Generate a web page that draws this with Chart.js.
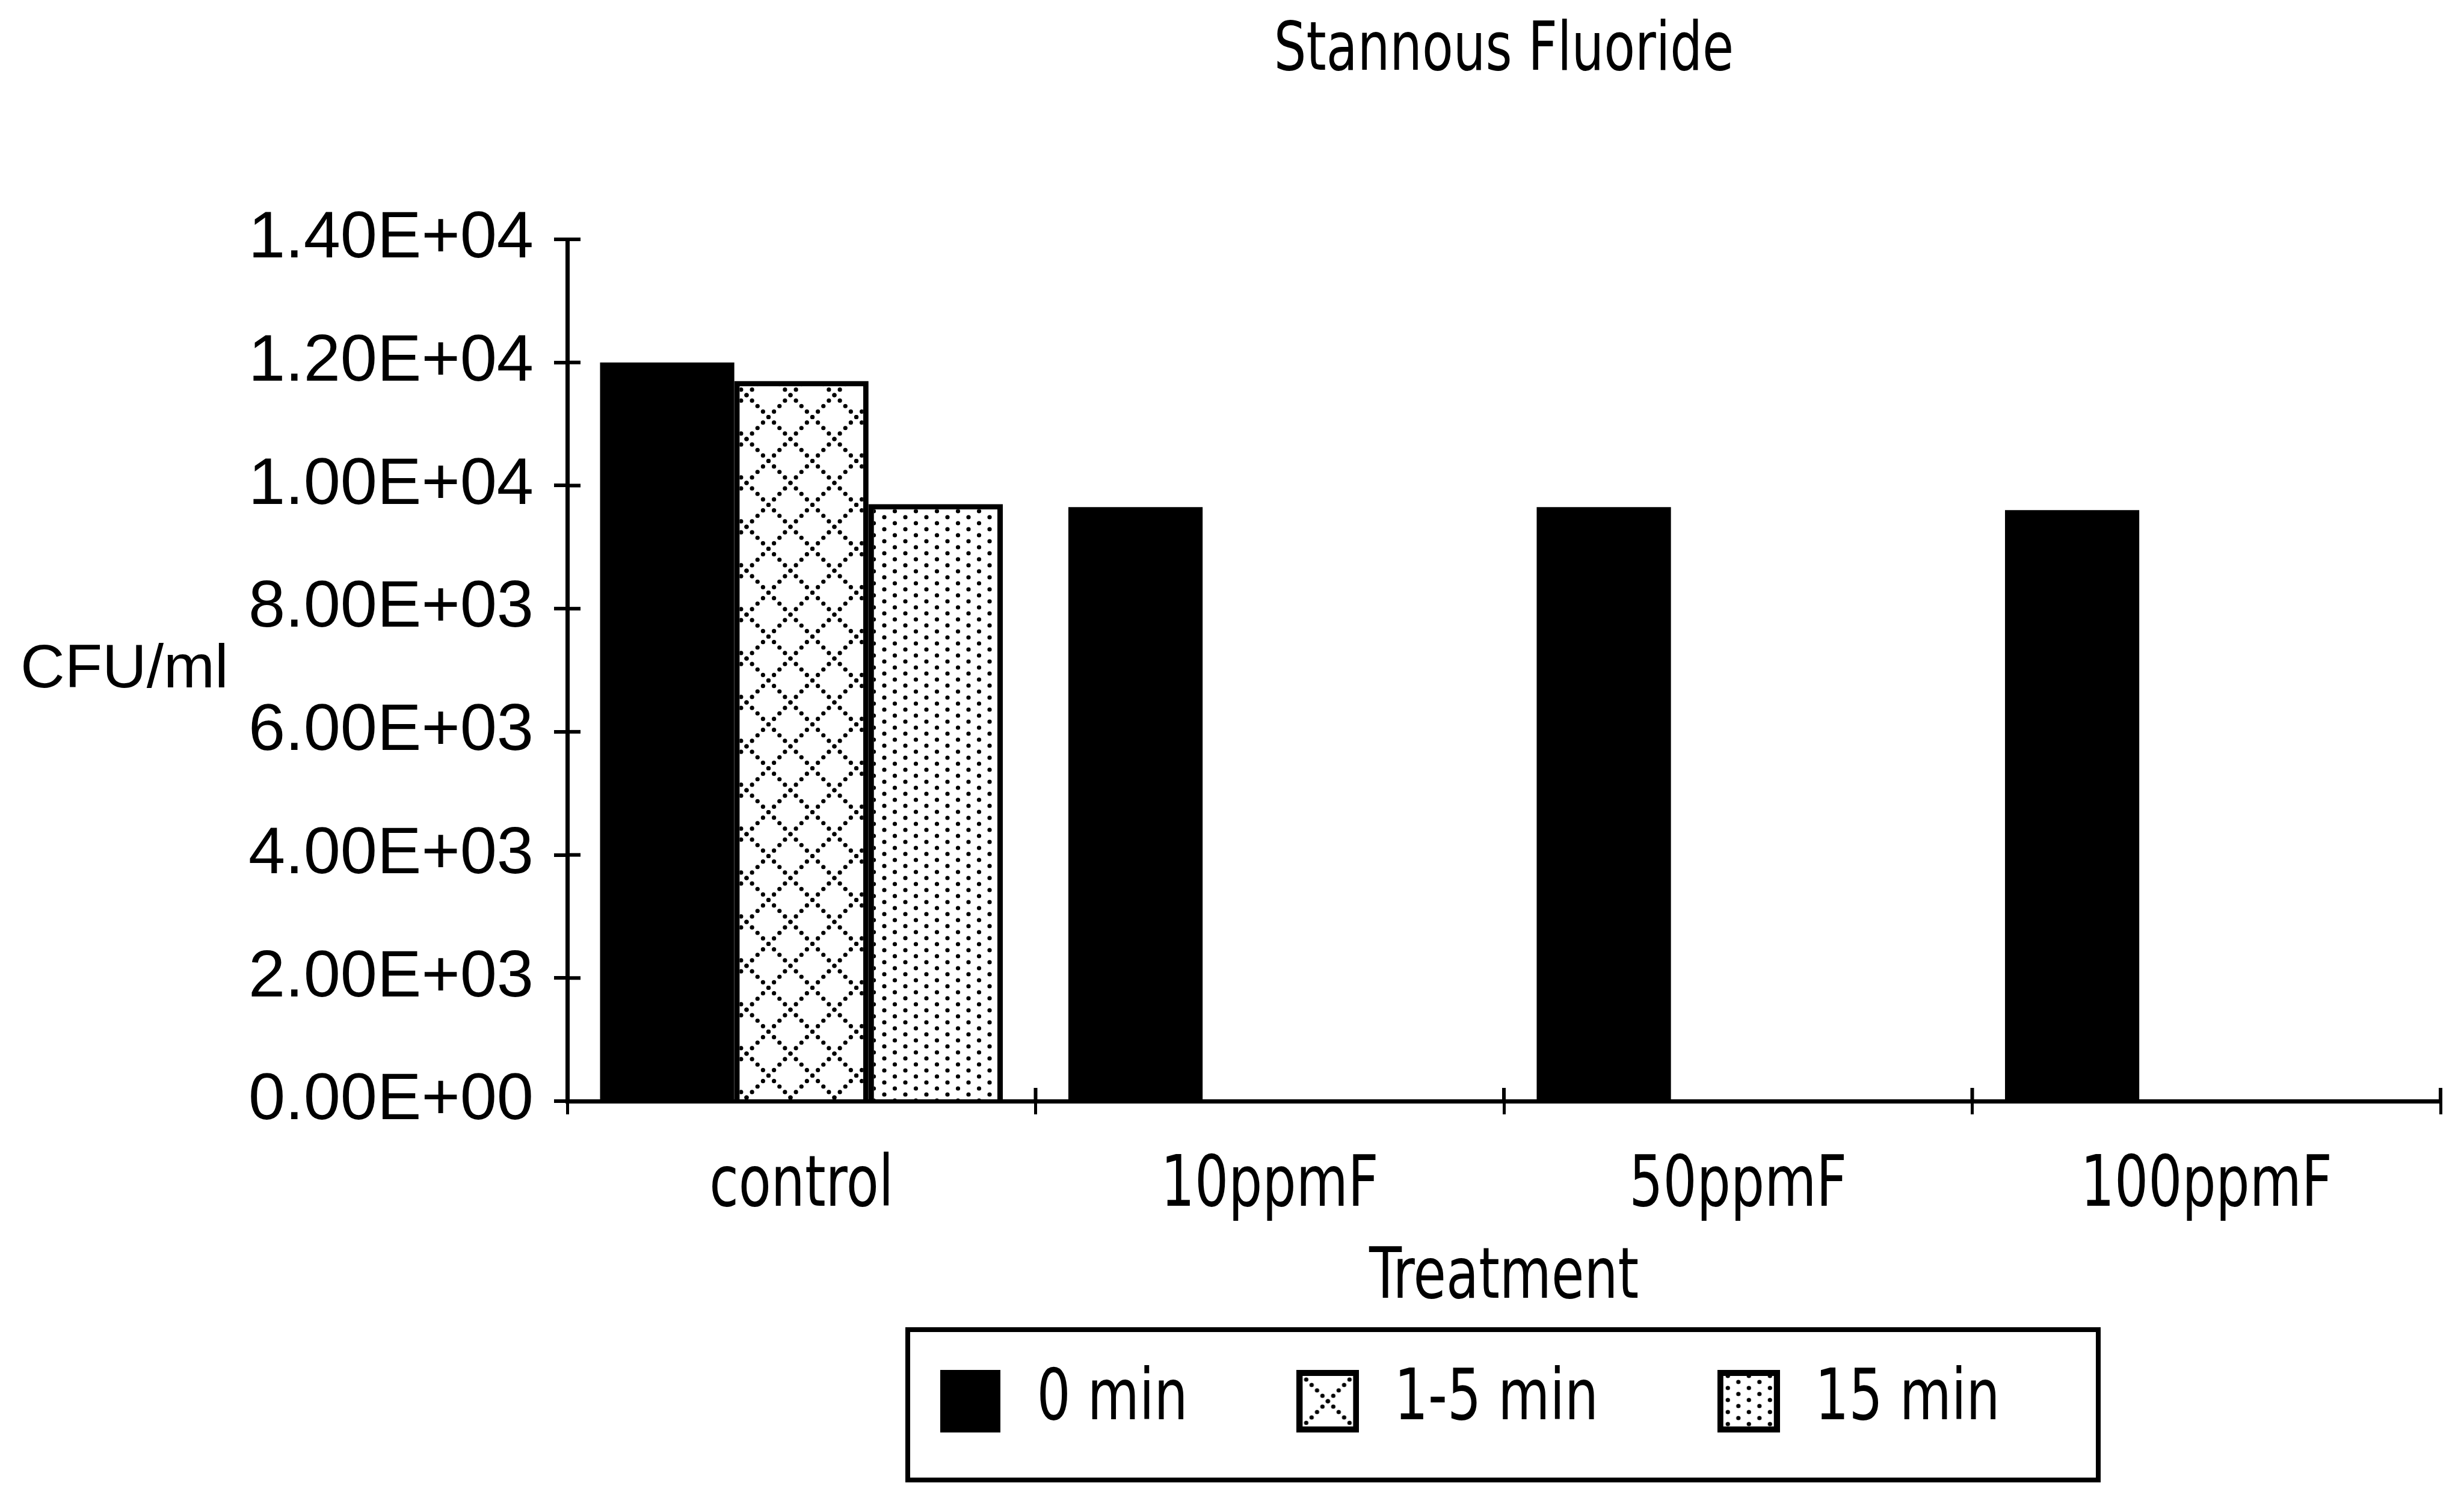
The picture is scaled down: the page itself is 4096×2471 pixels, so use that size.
<!DOCTYPE html>
<html>
<head>
<meta charset="utf-8">
<title>Stannous Fluoride</title>
<script src="https://cdn.jsdelivr.net/npm/chart.js@4.4.1/dist/chart.umd.min.js"></script>
<style>
  html, body { margin: 0; padding: 0; background: #fff; }
  canvas { display: block; }
</style>
</head>
<body>
<canvas id="grafico" width="4096" height="2471"></canvas>
<script>
// Dados do gráfico
const categorias = ['control', '10ppmF', '50ppmF', '100ppmF'];
const nomesSeries = ['0 min', '1-5 min', '15 min'];
const serie0min = [12000, 9650, 9650, 9600];
const serie1a5min = [11700, null, null, null];
const serie15min = [9700, null, null, null];
const rotulosY = ['0.00E+00', '2.00E+03', '4.00E+03', '6.00E+03', '8.00E+03', '1.00E+04', '1.20E+04', '1.40E+04'];

const fonteLarga = '"Liberation Sans", Arial, sans-serif';
const fonteEstreita = '"DejaVu Sans Condensed", sans-serif';
const COMPRESSAO = 0.84;

const canvas = document.getElementById('grafico');
const ctx = canvas.getContext('2d');

// Textos na fonte estreita saem ainda mais apertados na horizontal
const fillTextOriginal = ctx.fillText;
ctx.fillText = function (texto, x, y, maxWidth) {
    if (this.font.indexOf('Condensed') !== -1) {
        const largura = this.measureText(texto).width * COMPRESSAO;
        maxWidth = (maxWidth === undefined || maxWidth === null) ? largura : Math.min(maxWidth, largura);
    }
    if (maxWidth === undefined || maxWidth === null) return fillTextOriginal.call(this, texto, x, y);
    return fillTextOriginal.call(this, texto, x, y, maxWidth);
};

// Desenha bolinhas repetidas nas bordas para o ladrilho fechar sem emenda
function bolinha(g, x, y, r, w, h) {
    for (let dx = -1; dx <= 1; dx++) {
        for (let dy = -1; dy <= 1; dy++) {
            g.beginPath();
            g.arc(x + dx * w, y + dy * h, r, 0, Math.PI * 2);
            g.fill();
        }
    }
}

// Ladrilho em losangos pontilhados (1-5 min)
function ladrilhoLosango() {
    const P = 73, n = 8;
    const c = document.createElement('canvas');
    c.width = P; c.height = P;
    const g = c.getContext('2d');
    g.fillStyle = '#fff';
    g.fillRect(0, 0, P, P);
    g.fillStyle = '#000';
    for (let i = 0; i < n; i++) {
        const t = i * P / n;
        bolinha(g, t, t, 3.6, P, P);
        bolinha(g, t, P - t, 3.6, P, P);
    }
    return c;
}

// Ladrilho de pontos intercalados (15 min)
function ladrilhoPontos() {
    const W = 35, H = 20;
    const c = document.createElement('canvas');
    c.width = W; c.height = H;
    const g = c.getContext('2d');
    g.fillStyle = '#fff';
    g.fillRect(0, 0, W, H);
    g.fillStyle = '#000';
    bolinha(g, 0, 0, 3.6, W, H);
    bolinha(g, W / 2, H / 2, 3.6, W, H);
    return c;
}

const padraoLosango = ctx.createPattern(ladrilhoLosango(), 'repeat');
const padraoPontos = ctx.createPattern(ladrilhoPontos(), 'repeat');

// Ícones da legenda
function iconeLegenda(tipo) {
    const L = 104;
    const c = document.createElement('canvas');
    c.width = L; c.height = L;
    const g = c.getContext('2d');
    if (tipo === 0) {
        g.fillStyle = '#000';
        g.fillRect(2, 0, L - 4, L);
        return c;
    }
    g.fillStyle = '#fff';
    g.fillRect(0, 0, L, L);
    if (tipo === 1) {
        g.fillStyle = '#000';
        for (let i = 0; i <= 8; i++) {
            const t = 16 + i * (L - 32) / 8;
            g.beginPath(); g.arc(t, t, 3.6, 0, Math.PI * 2); g.fill();
            g.beginPath(); g.arc(t, L - t, 3.6, 0, Math.PI * 2); g.fill();
        }
    } else {
        g.fillStyle = g.createPattern(ladrilhoPontos(), 'repeat');
        g.fillRect(0, 0, L, L);
    }
    g.strokeStyle = '#000';
    g.lineWidth = 10;
    g.strokeRect(5, 5, L - 10, L - 10);
    return c;
}
const iconesLegenda = [iconeLegenda(0), iconeLegenda(1), iconeLegenda(2)];

// Marcas dos eixos cruzando a linha (para dentro da área do gráfico)
const marcasCruzadas = {
    id: 'marcasCruzadas',
    afterDraw(chart) {
        const { ctx, scales: { x, y }, chartArea } = chart;
        ctx.save();
        ctx.strokeStyle = '#000';
        ctx.lineWidth = 6;
        y.ticks.forEach((t, i) => {
            const py = y.getPixelForTick(i);
            ctx.beginPath();
            ctx.moveTo(chartArea.left, py);
            ctx.lineTo(chartArea.left + 22, py);
            ctx.stroke();
        });
        for (let i = 0; i <= categorias.length; i++) {
            const px = x.getPixelForValue(i - 0.5);
            ctx.beginPath();
            ctx.moveTo(px, chartArea.bottom);
            ctx.lineTo(px, chartArea.bottom - 22);
            ctx.stroke();
        }
        ctx.restore();
    }
};

// Título do eixo Y na horizontal, à esquerda
const tituloY = {
    id: 'tituloY',
    afterDraw(chart) {
        const { ctx, chartArea } = chart;
        ctx.save();
        ctx.fillStyle = '#000';
        ctx.font = '102px ' + fonteLarga;
        ctx.textAlign = 'left';
        ctx.textBaseline = 'middle';
        ctx.fillText('CFU/ml', 34, (chartArea.top + chartArea.bottom) / 2);
        ctx.restore();
    }
};

// Empurra a legenda um pouco para a esquerda
const ajusteLegenda = {
    id: 'ajusteLegenda',
    afterLayout(chart) {
        chart.legend.left -= 28;
        chart.legend.right -= 28;
    }
};

// Moldura em volta da legenda
const molduraLegenda = {
    id: 'molduraLegenda',
    afterDraw(chart) {
        const legenda = chart.legend;
        const caixas = legenda.legendHitBoxes;
        if (!caixas || !caixas.length) return;
        const cx = (legenda.left + legenda.right) / 2;
        const meio = caixas[0].top + caixas[0].height / 2;
        const ctx = chart.ctx;
        ctx.save();
        ctx.strokeStyle = '#000';
        ctx.lineWidth = 8;
        ctx.strokeRect(cx - 963, meio - 119, 1979, 250);
        ctx.restore();
    }
};

const grafico = new Chart(ctx, {
    type: 'bar',
    data: {
        labels: categorias,
        datasets: [
            { label: nomesSeries[0], data: serie0min, backgroundColor: '#000', borderColor: '#000', borderWidth: 0 },
            { label: nomesSeries[1], data: serie1a5min, backgroundColor: padraoLosango, borderColor: '#000', borderWidth: 9 },
            { label: nomesSeries[2], data: serie15min, backgroundColor: padraoPontos, borderColor: '#000', borderWidth: 9 }
        ]
    },
    options: {
        responsive: false,
        devicePixelRatio: 1,
        animation: false,
        categoryPercentage: 0.86,
        barPercentage: 1,
        layout: {
            padding: { top: 0, left: 0, right: 39, bottom: 72.5 }
        },
        plugins: {
            title: {
                display: true,
                text: 'Stannous Fluoride',
                fullSize: false,
                color: '#000',
                font: { family: fonteEstreita, size: 112, weight: 'normal', lineHeight: 1 },
                padding: { top: 31, bottom: 255 }
            },
            legend: {
                position: 'bottom',
                fullSize: false,
                labels: {
                    color: '#000',
                    font: { family: fonteEstreita, size: 117, lineHeight: 1 },
                    usePointStyle: true,
                    pointStyleWidth: 104,
                    boxHeight: 104,
                    padding: 133,
                    generateLabels: (chart) => chart.data.datasets.map((ds, i) => ({
                        text: ds.label,
                        pointStyle: iconesLegenda[i],
                        fontColor: '#000',
                        hidden: false,
                        lineWidth: 0,
                        datasetIndex: i
                    }))
                }
            },
            tooltip: { enabled: false }
        },
        scales: {
            x: {
                grid: { offset: true, drawOnChartArea: false, drawTicks: true, tickLength: 22, color: '#000', lineWidth: 5 },
                border: { display: true, color: '#000', width: 7 },
                ticks: {
                    color: '#000',
                    padding: 63,
                    autoSkip: false,
                    maxRotation: 0,
                    font: { family: fonteEstreita, size: 117, lineHeight: 1 }
                },
                title: {
                    display: true,
                    text: 'Treatment',
                    color: '#000',
                    font: { family: fonteEstreita, size: 117, lineHeight: 1 },
                    padding: { top: 0, bottom: -48 }
                },
                afterFit: (escala) => { escala.height = 307.5; }
            },
            y: {
                min: 0,
                max: 14000,
                grid: { drawOnChartArea: false, drawTicks: true, tickLength: 22, color: '#000', lineWidth: 6 },
                border: { display: true, color: '#000', width: 7 },
                ticks: {
                    stepSize: 2000,
                    color: '#000',
                    padding: 34,
                    font: { family: fonteLarga, size: 110, lineHeight: 1 },
                    callback: (valor, indice) => rotulosY[indice]
                },
                afterFit: (escala) => { escala.width = 943; }
            }
        }
    },
    plugins: [ajusteLegenda, marcasCruzadas, tituloY, molduraLegenda]
});
</script>
</body>
</html>
